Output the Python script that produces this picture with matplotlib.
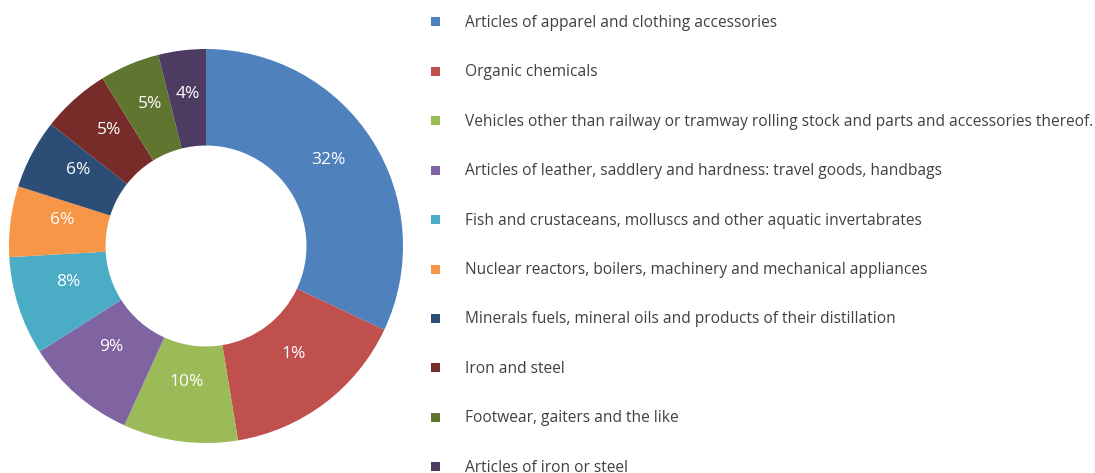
import matplotlib
matplotlib.use("Agg")
import matplotlib.pyplot as plt
from matplotlib.patches import Rectangle

categories = [
    "Articles of apparel and clothing accessories",
    "Organic chemicals",
    "Vehicles other than railway or tramway rolling stock and parts and accessories thereof.",
    "Articles of leather, saddlery and hardness: travel goods, handbags",
    "Fish and crustaceans, molluscs and other aquatic invertabrates",
    "Nuclear reactors, boilers, machinery and mechanical appliances",
    "Minerals fuels, mineral oils and products of their distillation",
    "Iron and steel",
    "Footwear, gaiters and the like",
    "Articles of iron or steel",
]
shares = [32.0, 15.4, 9.4, 9.2, 8.1, 5.8, 5.7, 5.6, 4.9, 3.9]
value_labels = ["32%", "1%", "10%", "9%", "8%", "6%", "6%", "5%", "5%", "4%"]
colors = ["#4F81BD", "#C0504D", "#9BBB59", "#8064A2", "#4BACC6",
          "#F79646", "#2C4D75", "#772C2A", "#5F7530", "#4D3B62"]

plt.rcParams['font.family'] = ['Open Sans', 'DejaVu Sans']

W, H = 1095, 473
fig = plt.figure(figsize=(W / 100, H / 100), dpi=100)
fig.patch.set_facecolor("white")

# pie axes: centre (206, 246) from top-left, outer radius 197 px
cx, cy, R = 206, 246, 197
box = 200
ax = fig.add_axes([(cx - box) / W, (H - cy - box) / H, 2 * box / W, 2 * box / H])
wedges, texts = ax.pie(
    shares, colors=colors, startangle=90, counterclock=False,
    radius=1.0, labels=value_labels, labeldistance=0.736,
    wedgeprops=dict(width=0.49, linewidth=0),
    textprops=dict(color="white", fontsize=12.5, ha="center", va="center"),
)
for t in texts:
    x, y = t.get_position()
    t.set_position((x, y + 8 / R))
ax.set_xlim(-box / R, box / R)
ax.set_ylim(-box / R, box / R)
ax.set_aspect("equal")
ax.axis("off")

# legend
y_mark0, y_base0, dy = 22, 27.0, 49.4
sq = 9
for i, (lab, col) in enumerate(zip(categories, colors)):
    ym = y_mark0 + i * dy
    fig.patches.append(Rectangle((431 / W, (H - ym - sq / 2) / H), sq / W, sq / H,
                                 transform=fig.transFigure, facecolor=col,
                                 edgecolor="none"))
    fig.text(465 / W, (H - (y_base0 + i * dy)) / H, lab, fontsize=11.2,
             color="#404040", ha="left", va="baseline")

fig.savefig("out.png", dpi=100)
